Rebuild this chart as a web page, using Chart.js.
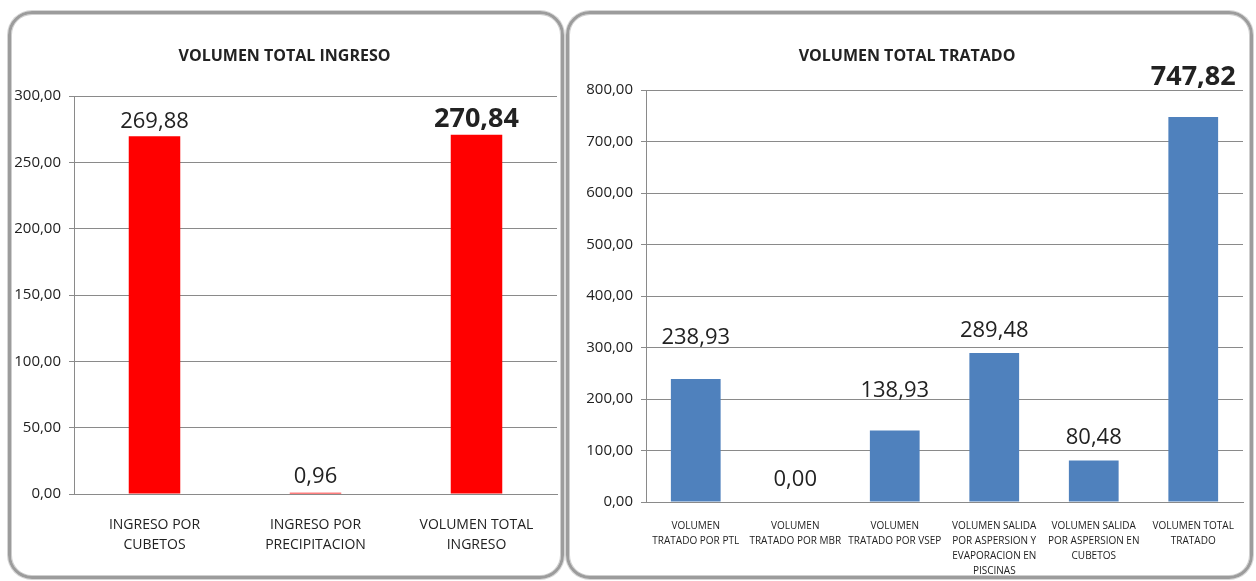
<!DOCTYPE html>
<html>
<head>
<meta charset="utf-8">
<script src="https://cdn.jsdelivr.net/npm/chart.js@4/dist/chart.umd.min.js"></script>
<style>
  body { margin: 0; width: 1256px; height: 581px; background: #fff; position: relative; overflow: hidden; font-family: "Open Sans", sans-serif; }
  .panel { position: absolute; top: 11px; height: 562px; border: 3px solid #9c9c9c; border-radius: 24px; box-shadow: inset 0 0 0 1px #cfcfcf, 0 0 0 1px #d6d6d6; }
  canvas { position: absolute; }
</style>
</head>
<body>
<div class="panel" style="left:8px; width:550px"></div>
<div class="panel" style="left:566px; width:681px"></div>
<canvas id="ingreso" width="548" height="558" style="left:12px; top:16px"></canvas>
<canvas id="tratado" width="677" height="558" style="left:571px; top:16px"></canvas>
<script>
// --- data ---
const ingresoTitle = 'VOLUMEN TOTAL INGRESO';
const ingresoLabels = [['INGRESO POR', 'CUBETOS'], ['INGRESO POR', 'PRECIPITACION'], ['VOLUMEN TOTAL', 'INGRESO']];
const ingresoValues = [269.88, 0.96, 270.84];
const ingresoAxis = { max: 300, step: 50 };

const tratadoTitle = 'VOLUMEN TOTAL TRATADO';
const tratadoLabels = [
    ['VOLUMEN', 'TRATADO POR PTL'],
    ['VOLUMEN', 'TRATADO POR MBR'],
    ['VOLUMEN', 'TRATADO POR VSEP'],
    ['VOLUMEN SALIDA', 'POR ASPERSION Y', 'EVAPORACION EN', 'PISCINAS'],
    ['VOLUMEN SALIDA', 'POR ASPERSION EN', 'CUBETOS'],
    ['VOLUMEN TOTAL', 'TRATADO']
];
const tratadoValues = [238.93, 0.00, 138.93, 289.48, 80.48, 747.82];
const tratadoAxis = { max: 800, step: 100 };

// label lift above bar top (px), the labels were placed by hand in the original
const ingresoLift = [16, 18, 18];
const tratadoLift = [43, 24, 41, 24, 24, 42];

const GRID = '#8a8a8a';
const TEXT = '#222';
const fmt = (v) => v.toFixed(2).replace('.', ',');

const valueLabels = {
    id: 'valueLabels',
    afterDatasetsDraw(chart, args, opts) {
        const ctx = chart.ctx;
        const meta = chart.getDatasetMeta(0);
        const vals = chart.data.datasets[0].data;
        ctx.save();
        ctx.textAlign = 'center';
        ctx.textBaseline = 'alphabetic';
        ctx.fillStyle = TEXT;
        meta.data.forEach((bar, i) => {
            const bold = i === vals.length - 1;
            const size = bold ? opts.boldSize : opts.size;
            ctx.font = (bold ? 'bold ' : '') + size + 'px "Open Sans"';
            const centerY = bar.y - opts.lift[i];
            ctx.fillText(fmt(vals[i]), bar.x, centerY + size * 0.357);
        });
        ctx.restore();
    }
};

function makeChart(id, cfg) {
    return new Chart(document.getElementById(id), {
        type: 'bar',
        data: {
            labels: cfg.labels,
            datasets: [{
                data: cfg.values,
                backgroundColor: cfg.color,
                borderWidth: 0,
                barPercentage: cfg.barPct,
                categoryPercentage: 1
            }]
        },
        options: {
            responsive: false,
            animation: false,
            layout: { padding: { left: 0, right: cfg.padRight, top: 0, bottom: 0 } },
            plugins: {
                legend: { display: false },
                tooltip: { enabled: false },
                title: {
                    display: true, text: cfg.title, color: TEXT,
                    font: { family: 'Open Sans', size: 16, weight: 'bold', lineHeight: 1.2 },
                    padding: { top: 31, bottom: cfg.titleBottom }
                },
                valueLabels: { lift: cfg.lift, size: 22, boldSize: 27 }
            },
            scales: {
                x: {
                    grid: { display: false },
                    border: { display: true, color: GRID },
                    ticks: {
                        color: TEXT, autoSkip: false, maxRotation: 0, minRotation: 0,
                        padding: cfg.xPad,
                        font: { family: 'Open Sans', size: cfg.xFont, lineHeight: cfg.xLine + 'px' }
                    },
                    afterFit: (s) => { s.height = cfg.xHeight; }
                },
                y: {
                    min: 0, max: cfg.axis.max,
                    grid: { color: GRID, drawTicks: true, tickLength: 5, tickColor: GRID },
                    border: { display: true, color: GRID },
                    ticks: {
                        stepSize: cfg.axis.step, color: TEXT, padding: 8,
                        font: { family: 'Open Sans', size: 15 },
                        callback: (v) => fmt(v)
                    },
                    afterFit: (s) => { s.width = cfg.yWidth; }
                }
            }
        },
        plugins: [valueLabels]
    });
}

makeChart('ingreso', {
    title: ingresoTitle, labels: ingresoLabels, values: ingresoValues, axis: ingresoAxis,
    color: '#ff0000', barPct: 0.32, lift: ingresoLift,
    padRight: 3, titleBottom: 30, yWidth: 62, xHeight: 80, xPad: 13, xFont: 14, xLine: 20
});

makeChart('tratado', {
    title: tratadoTitle, labels: tratadoLabels, values: tratadoValues, axis: tratadoAxis,
    color: '#4f81bd', barPct: 0.5, lift: tratadoLift,
    padRight: 5, titleBottom: 24, yWidth: 75, xHeight: 72, xPad: 9, xFont: 10, xLine: 15
});
</script>
</body>
</html>
